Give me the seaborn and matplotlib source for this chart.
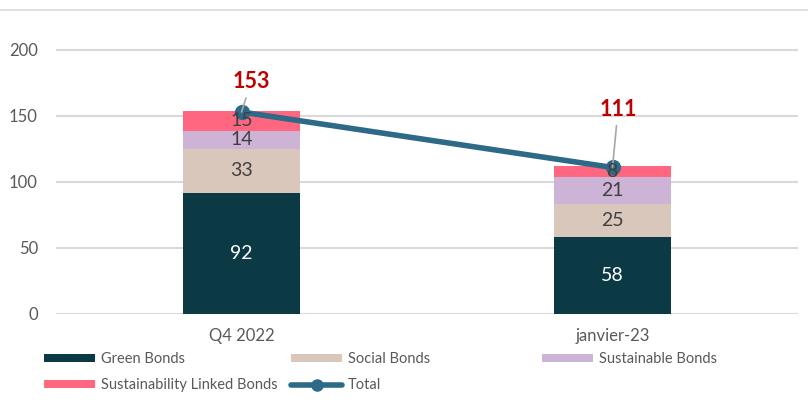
import numpy as np
import pandas as pd
import matplotlib
matplotlib.use("Agg")
import matplotlib.pyplot as plt
from matplotlib.patches import Patch
from matplotlib.lines import Line2D
import seaborn as sns

# ---- data ----
categories = ["Q4 2022", "janvier-23"]
green = [92, 58]
social = [33, 25]
sustainable = [14, 21]
slb = [15, 8]
totals = [153, 111]
series_names = ["Green Bonds", "Social Bonds", "Sustainable Bonds", "Sustainability Linked Bonds"]
yticks = [0, 50, 100, 150, 200]

colors = ["#0B3A45", "#D9C7BB", "#CDB4D6", "#FF6680"]
line_color = "#2C6A87"

sns.set_theme(style="white")
plt.rcParams["font.family"] = ["Lato", "DejaVu Sans"]

fig = plt.figure(figsize=(8.08, 4.18), dpi=100)
ax = fig.add_axes([56 / 808, (418 - 314) / 418, 742 / 808, (215 * 1.32) / 418])

series = [green, social, sustainable, slb]
bottom = np.zeros(len(categories))
for name, vals, col in zip(series_names, series, colors):
    df = pd.DataFrame({"cat": categories, "val": vals})
    sns.barplot(data=df, x="cat", y="val", color=col, width=0.315, bottom=bottom,
                ax=ax, saturation=1, linewidth=0, zorder=2)
    bottom = bottom + np.array(vals)

for i, cont in enumerate(ax.containers):
    labs = ax.bar_label(cont, label_type="center", fontsize=14,
                        color="white" if i == 0 else "#404040")
    for t in labs:
        t.set_zorder(6)

xpos = np.arange(len(categories))
sns.lineplot(x=xpos, y=totals, ax=ax, color=line_color, linewidth=4,
             marker="o", markersize=11, markeredgewidth=0, zorder=4)

offsets = [(7, 22), (4, 42)]
for x, t, off in zip(xpos, totals, offsets):
    ax.annotate(str(t), xy=(x, t), xytext=off, textcoords="offset points",
                ha="center", va="center", fontsize=15.5, fontweight="bold",
                color="#C00000",
                arrowprops=dict(arrowstyle="-", color="#A6A6A6", lw=1.2,
                                shrinkA=2, shrinkB=0), zorder=5)

ax.set_xlim(-0.5, 1.5)
ax.set_ylim(0, 215)
ax.set_yticks(yticks)
ax.set_yticklabels([str(v) for v in yticks])
ax.yaxis.grid(True, color="#D9D9D9", linewidth=1.5, zorder=0)
ax.set_axisbelow(True)
ax.set_xlabel("")
ax.set_ylabel("")
for s in ax.spines.values():
    s.set_visible(False)
ax.tick_params(axis="y", length=0, pad=13, labelsize=12, labelcolor="#595959")
ax.tick_params(axis="x", length=0, pad=10, labelsize=12, labelcolor="#595959")

# top border line
fig.add_artist(Line2D([0, 1], [1 - 10 / 418, 1 - 10 / 418], transform=fig.transFigure,
                      color="#D9D9D9", linewidth=1.2))

# legend in columns
h = [Patch(facecolor=c, edgecolor="none") for c in colors]
h_tot = Line2D([], [], color=line_color, linewidth=4, marker="o", markersize=8)
common = dict(loc="upper left", frameon=False, borderpad=0, borderaxespad=0,
              fontsize=10.5, handlelength=3.5, handleheight=0.5, handletextpad=0.4,
              labelspacing=0.85, labelcolor="#595959")
ytop = 1 - 352 / 418
fig.legend([h[0], h[3]], [series_names[0], series_names[3]],
           bbox_to_anchor=(44 / 808, ytop), **common)
fig.legend([h[1], h_tot], [series_names[1], "Total"],
           bbox_to_anchor=(291 / 808, ytop), **common)
fig.legend([h[2]], [series_names[2]],
           bbox_to_anchor=(542 / 808, ytop), **common)

fig.savefig("out.png", dpi=100)
